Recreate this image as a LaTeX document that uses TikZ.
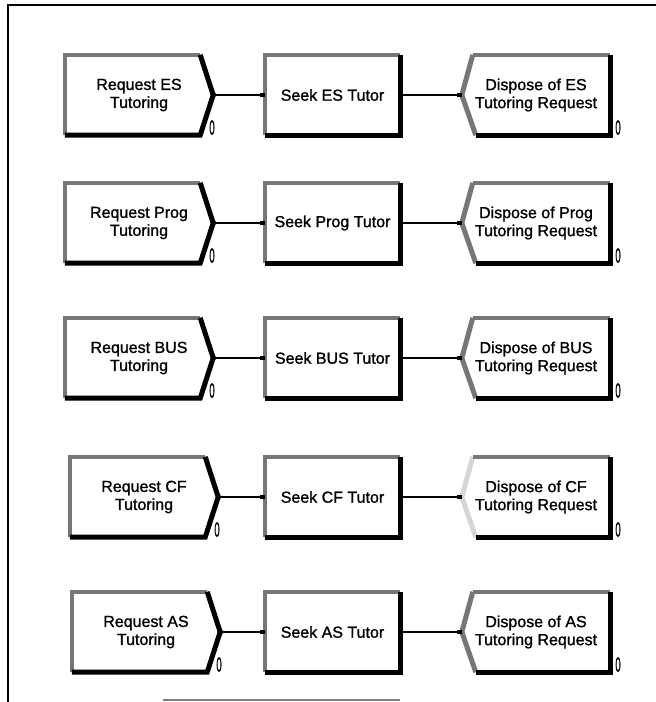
\documentclass[tikz,border=0pt]{standalone}
\usepackage{fontspec}
\setmainfont{Liberation Sans}
\newfontfamily\scanfont[FakeBold=1.2]{Liberation Sans}
\usetikzlibrary{arrows.meta,positioning}
\definecolor{hatchgray}{HTML}{767676}
\definecolor{palegray}{HTML}{D6D6D6}
\tikzset{
  reqbox/.style={rectangle, minimum width=148pt, minimum height=80pt, inner sep=0pt, align=center, font=\scanfont\fontsize{16}{18}\selectfont},
  seekbox/.style={rectangle, minimum width=135pt, minimum height=80pt, inner sep=0pt, align=center, font=\scanfont\fontsize{16}{18}\selectfont},
  dispbox/.style={rectangle, minimum width=148pt, minimum height=80pt, inner sep=0pt, align=center, font=\scanfont\fontsize{16}{18}\selectfont},
  litedge/.style={line width=3.5pt, draw=hatchgray, line join=miter},
  darkedge/.style={line width=5pt, draw=black, line join=miter},
  chevedge/.style={line width=5pt, line join=miter},
  link/.style={line width=1.2pt, {Circle[length=3.5pt]}-{Square[length=4.5pt]}},
  cnt/.style={inner sep=0pt, anchor=south west, font=\scanfont\fontsize{21}{21}\selectfont},
  frameline/.style={line width=1.6pt, draw=black},
}

\begin{document}
\begin{tikzpicture}[x=1pt,y=-1pt]
  \useasboundingbox (0,0) rectangle (656,702);
  % page frame
  \draw[frameline] (656,5) -- (8,5) -- (8,702);
  \draw[line width=1.2pt, draw=gray] (163,700) -- (400,700);
  % one row per tutoring area
  \foreach \n/\y/\dx/\ch in {ES/95/0/hatchgray, Prog/223/0/hatchgray, BUS/358/0/hatchgray, CF/497/5/palegray, AS/632/7/hatchgray}{
    \node[reqbox] (req\n) at (139+\dx,\y) {Request \n\\Tutoring};
    \node[seekbox] (seek\n) at (332.5,\y) {Seek \n\ Tutor};
    \node[dispbox] (disp\n) at (536,\y) {Dispose of \n\\Tutoring Request};
    \draw[litedge] (req\n.south west) -- (req\n.north west) -- ([xshift=-13pt]req\n.north east);
    \draw[darkedge] ([xshift=-13pt]req\n.north east) -- (req\n.east) -- ([xshift=-13pt]req\n.south east) -- (req\n.south west);
    \draw[litedge] (seek\n.south west) -- (seek\n.north west) -- (seek\n.north east);
    \draw[darkedge] (seek\n.north east) -- (seek\n.south east) -- (seek\n.south west);
    \draw[chevedge, draw=\ch] ([xshift=14pt]disp\n.south west) -- (disp\n.west) -- ([xshift=11pt]disp\n.north west);
    \draw[litedge] ([xshift=11pt]disp\n.north west) -- (disp\n.north east);
    \draw[darkedge] (disp\n.north east) -- (disp\n.south east) -- ([xshift=14pt]disp\n.south west);
    \draw[link] (req\n.east) -- (seek\n.west);
    \draw[link] (seek\n.east) -- (disp\n.west);
    \node[cnt] (nreq\n) at ([xshift=-4pt]req\n.south east) {\scalebox{0.45}[1]{0}};
    \node[cnt] (ndisp\n) at ([xshift=5pt]disp\n.south east) {\scalebox{0.45}[1]{0}};
  }
\end{tikzpicture}
\end{document}
